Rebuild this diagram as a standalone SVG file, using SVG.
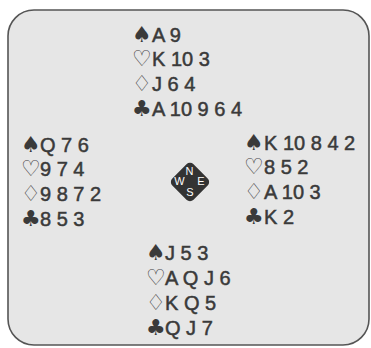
<svg xmlns="http://www.w3.org/2000/svg" width="371" height="348" viewBox="0 0 371 348">
<style>
.c{font-family:"Liberation Sans",Arial,sans-serif;font-size:20px;fill:#3a3a3a;stroke:#3a3a3a;stroke-width:0.5}
.s{font-family:"DejaVu Sans",sans-serif;font-size:22px;fill:#3a3a3a}
.d{font-family:"Liberation Sans",Arial,sans-serif;font-size:11px;fill:#ffffff;text-anchor:middle}
</style>
<rect width="371" height="348" fill="#ffffff"/>
<rect x="8" y="10" width="361" height="335" rx="26" ry="26" fill="#e6e6e6" stroke="#555555" stroke-width="1.6"/>
<g id="north">
<text class="s" x="132" y="42">♠</text><text class="c" x="152" y="42">A 9</text>
<text class="s" x="132" y="66">♡</text><text class="c" x="152" y="66">K 10 3</text>
<text class="s" x="132" y="91">♢</text><text class="c" x="152" y="91">J 6 4</text>
<text class="s" x="132" y="116">♣</text><text class="c" x="152" y="116">A 10 9 6 4</text>
</g>
<g id="west">
<text class="s" x="21" y="152">♠</text><text class="c" x="40" y="152">Q 7 6</text>
<text class="s" x="21" y="176">♡</text><text class="c" x="40" y="176">9 7 4</text>
<text class="s" x="21" y="201">♢</text><text class="c" x="40" y="201">9 8 7 2</text>
<text class="s" x="21" y="226">♣</text><text class="c" x="40" y="226">8 5 3</text>
</g>
<g id="east">
<text class="s" x="244" y="150">♠</text><text class="c" x="264" y="150">K 10 8 4 2</text>
<text class="s" x="244" y="174">♡</text><text class="c" x="264" y="174">8 5 2</text>
<text class="s" x="244" y="199">♢</text><text class="c" x="264" y="199">A 10 3</text>
<text class="s" x="244" y="224">♣</text><text class="c" x="264" y="224">K 2</text>
</g>
<g id="south">
<text class="s" x="146" y="260">♠</text><text class="c" x="165" y="260">J 5 3</text>
<text class="s" x="146" y="285">♡</text><text class="c" x="165" y="285">A Q J 6</text>
<text class="s" x="146" y="310">♢</text><text class="c" x="165" y="310">K Q 5</text>
<text class="s" x="146" y="335">♣</text><text class="c" x="165" y="335">Q J 7</text>
</g>
<g id="compass">
<rect x="175" y="167" width="30" height="30" rx="5" fill="#333333" transform="rotate(45 190 182)"/>
<text class="d" x="189.5" y="175">N</text>
<text class="d" x="179.5" y="185">W</text>
<text class="d" x="201" y="185">E</text>
<text class="d" x="190" y="196">S</text>
</g>
</svg>
